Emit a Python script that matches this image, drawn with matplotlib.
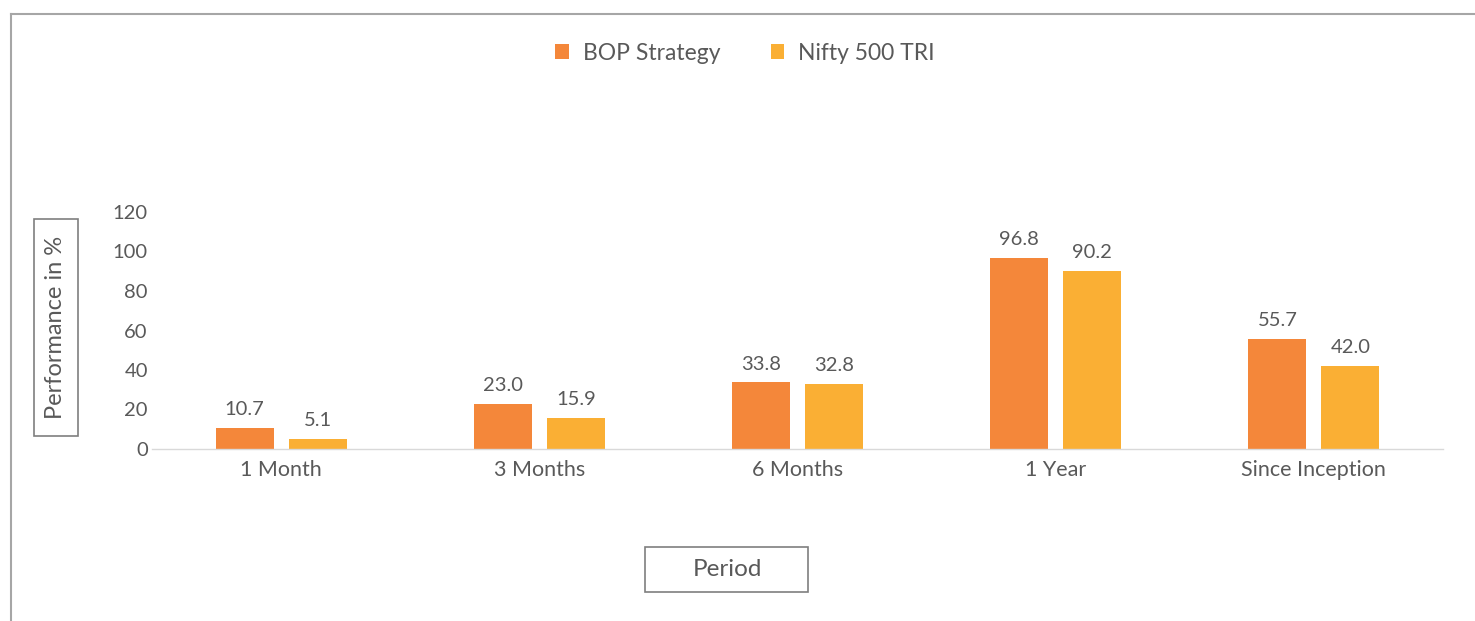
import numpy as np
import matplotlib
matplotlib.use("Agg")
import matplotlib.pyplot as plt
from matplotlib.patches import Rectangle
from matplotlib.lines import Line2D

# === Data ===
periods = ["1 Month", "3 Months", "6 Months", "1 Year", "Since Inception"]
bop_strategy = [10.7, 23.0, 33.8, 96.8, 55.7]
nifty_500_tri = [5.1, 15.9, 32.8, 90.2, 42.0]
y_ticks = [0, 20, 40, 60, 80, 100, 120]

# === Style ===
W, H = 1475, 621
plt.rcParams['font.family'] = ['Lato', 'DejaVu Sans']
txt = '#595959'
c_bop = '#F4873A'
c_nifty = '#FAAF34'

fig = plt.figure(figsize=(W / 100, H / 100), dpi=100)

def fx(px):
    return px / W

def fy(py):
    return 1 - py / H

ax = fig.add_axes([fx(152), fy(449), fx(1443) - fx(152), fy(212) - fy(449)])

x = np.arange(len(periods))
w = 0.225
off = 0.1415
b1 = ax.bar(x - off, bop_strategy, w, color=c_bop, label='BOP Strategy')
b2 = ax.bar(x + off, nifty_500_tri, w, color=c_nifty, label='Nifty 500 TRI')

for bars, vals in [(b1, bop_strategy), (b2, nifty_500_tri)]:
    for r, v in zip(bars, vals):
        ax.annotate(f'{v:.1f}', (r.get_x() + r.get_width() / 2, v),
                    xytext=(0, 7), textcoords='offset points',
                    ha='center', va='bottom', fontsize=14.5, color=txt)

ax.set_xlim(-0.5, len(periods) - 0.5)
ax.set_ylim(0, 120)
ax.set_yticks(y_ticks)
ax.set_xticks(x)
ax.set_xticklabels(periods)
ax.tick_params(axis='both', length=0, labelcolor=txt)
ax.tick_params(axis='y', pad=3, labelsize=14.5)
ax.tick_params(axis='x', pad=8, labelsize=15.5)
for s in ['top', 'right', 'left']:
    ax.spines[s].set_visible(False)
ax.spines['bottom'].set_color('#d9d9d9')
ax.spines['bottom'].set_linewidth(1)

# === Legend ===
leg = fig.legend(handles=[b1, b2], loc='center', bbox_to_anchor=(fx(745), fy(53)),
                 ncol=2, frameon=False, fontsize=16.5, handlelength=0.6, handleheight=0.6,
                 handletextpad=0.6, columnspacing=2.2, labelcolor=txt)

# === Axis title boxes ===
box_c = '#7f7f7f'
fig.patches.append(Rectangle((fx(34), fy(436)), fx(78) - fx(34), fy(219) - fy(436),
                             transform=fig.transFigure, fill=False, ec=box_c, lw=1.2))
fig.text(fx(56), fy(327.5), 'Performance in %', rotation=90, ha='center', va='center',
         fontsize=17, color=txt)
fig.patches.append(Rectangle((fx(645), fy(592)), fx(808) - fx(645), fy(547) - fy(592),
                             transform=fig.transFigure, fill=False, ec=box_c, lw=1.2))
fig.text(fx(727), fy(570), 'Period', ha='center', va='center', fontsize=17.5, color=txt)

# === Outer border (top and left) ===
fig.lines.append(Line2D([fx(11), 1], [fy(14), fy(14)], transform=fig.transFigure,
                        color='#a6a6a6', lw=1.5))
fig.lines.append(Line2D([fx(11), fx(11)], [0, fy(14)], transform=fig.transFigure,
                        color='#a6a6a6', lw=1.5))

fig.savefig('out.png', dpi=100)
